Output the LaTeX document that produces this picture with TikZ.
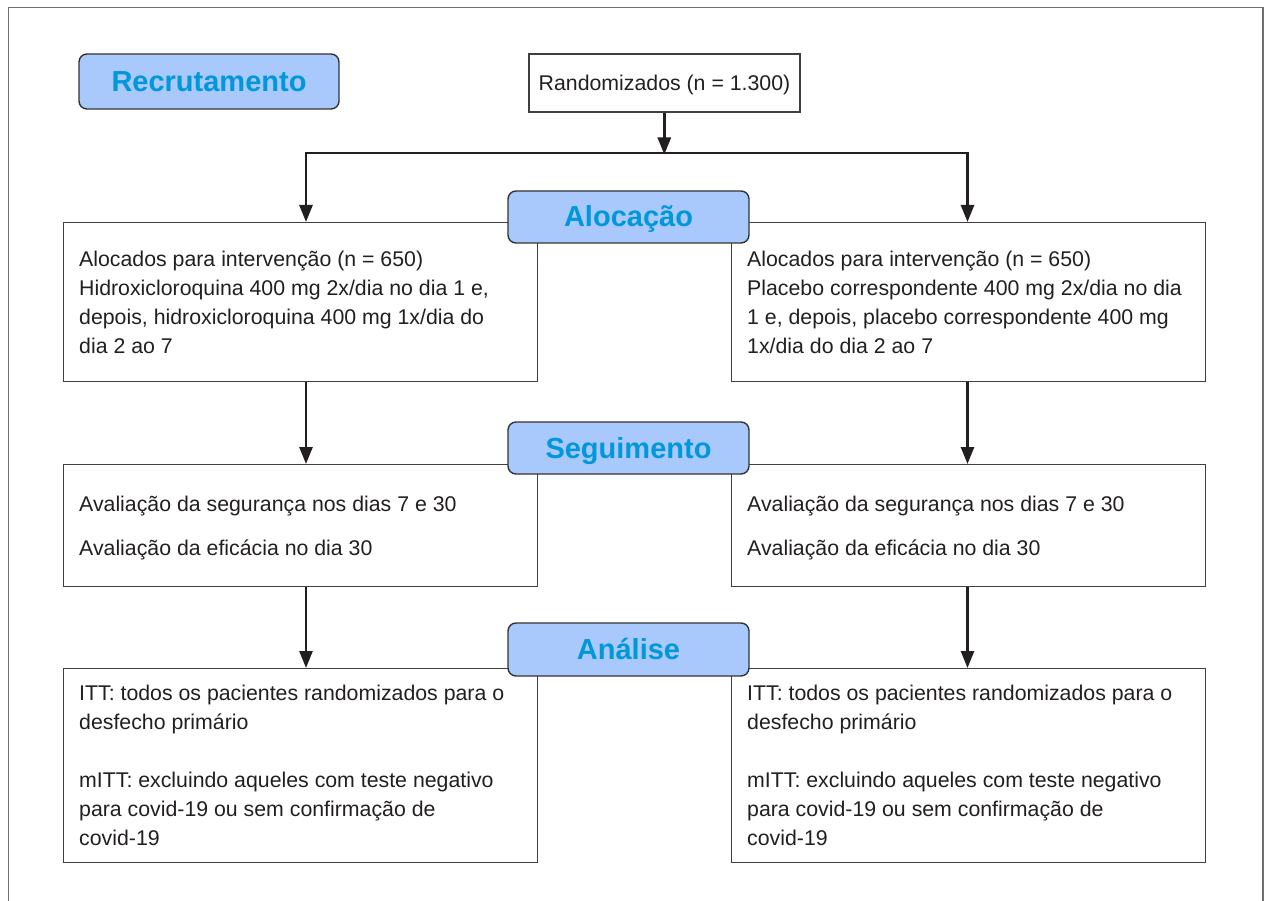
\documentclass[tikz,border=0pt]{standalone}
\usepackage{fontspec}
\setmainfont{Liberation Sans}
\usetikzlibrary{arrows.meta}
\definecolor{lblfill}{HTML}{A9C8FB}
\definecolor{lbltext}{HTML}{0098DA}
\definecolor{ink}{HTML}{231F20}
\definecolor{boxline}{HTML}{3F3F3F}
\definecolor{frameline}{HTML}{6F6F6F}
\newcommand\topstrut{\rule{0pt}{16pt}}
\begin{document}
\begin{tikzpicture}[x=1pt,y=-1pt,
  box/.style={draw=boxline, line width=1.3pt, fill=white, rectangle, inner sep=0pt, anchor=north west},
  lbl/.style={draw=black!80, line width=1.4pt, fill=lblfill, rounded corners=8pt, inner sep=0pt,
    text=lbltext, font=\fontsize{29}{34}\selectfont\bfseries, text height=20pt, text depth=0pt},
  body/.style={anchor=north west, inner sep=0pt, align=left, text=ink, font=\fontsize{21.3}{29}\selectfont},
  arr/.style={draw=ink, line width=2.6pt, line join=miter, -{Triangle[length=17pt,width=13pt]}}]
\useasboundingbox (0,0) rectangle (1269,901);
% outer frame
\draw[frameline, line width=1.5pt] (8.3,901) -- (8.3,7.6) -- (1263,7.6) -- (1263,901);

% boxes
\node[box, minimum width=474pt, minimum height=159pt] (a1) at (63,222) {};
\node[box, minimum width=474pt, minimum height=159pt] (b1) at (731,222) {};
\node[box, minimum width=474pt, minimum height=122pt] (a2) at (63,464) {};
\node[box, minimum width=474pt, minimum height=122pt] (b2) at (731,464) {};
\node[box, minimum width=474pt, minimum height=194pt] (a3) at (63,668) {};
\node[box, minimum width=474pt, minimum height=194pt] (b3) at (731,668) {};

\node[box, anchor=center, minimum width=271pt, minimum height=58pt, text=ink,
  font=\fontsize{21.3}{29}\selectfont, text height=16pt, text depth=0pt] (rand) at (664.5,83) {Randomizados (n = 1.300)};

% box texts
\node[body] (ta1) at (79,250) {\topstrut Alocados para intervenção (n = 650)\\Hidroxicloroquina 400 mg 2x/dia no dia 1 e,\\depois, hidroxicloroquina 400 mg 1x/dia do\\dia 2 ao 7};
\node[body] (tb1) at (747,250) {\topstrut Alocados para intervenção (n = 650)\\Placebo correspondente 400 mg 2x/dia no dia\\1 e, depois, placebo correspondente 400 mg\\1x/dia do dia 2 ao 7};
\node[body] (ta2) at (79,495.7) {\topstrut Avaliação da segurança nos dias 7 e 30\\[14.3pt]Avaliação da eficácia no dia 30};
\node[body] (tb2) at (747,495.7) {\topstrut Avaliação da segurança nos dias 7 e 30\\[14.3pt]Avaliação da eficácia no dia 30};
\node[body] (ta3) at (79,684.5) {\topstrut ITT: todos os pacientes randomizados para o\\desfecho primário\\[29pt]mITT: excluindo aqueles com teste negativo\\para covid-19 ou sem confirmação de\\covid-19};
\node[body] (tb3) at (747,684.5) {\topstrut ITT: todos os pacientes randomizados para o\\desfecho primário\\[29pt]mITT: excluindo aqueles com teste negativo\\para covid-19 ou sem confirmação de\\covid-19};

% stage labels
\node[lbl, minimum width=260pt, minimum height=55pt] (recr) at (209,81.5) {Recrutamento};
\node[lbl, minimum width=241pt, minimum height=52pt] (aloc) at (628.5,217) {Alocação};
\node[lbl, minimum width=241pt, minimum height=52pt] (segu) at (628.5,448) {Seguimento};
\node[lbl, minimum width=241pt, minimum height=53pt] (anal) at (628.5,649.5) {Análise};

% connectors
\coordinate (jl) at (306,153);
\coordinate (jr) at (967.5,153);
\coordinate (jm) at (664.3,153);
\draw[arr] (rand.south -| jm) -- ([yshift=-1.5pt]jm);
\draw[arr] (jm) -- (jl) -- (a1.north -| jl);
\draw[arr] (jm) -- (jr) -- (b1.north -| jr);
\draw[arr] (a1.south -| jl) -- (a2.north -| jl);
\draw[arr] (b1.south -| jr) -- (b2.north -| jr);
\draw[arr] (a2.south -| jl) -- (a3.north -| jl);
\draw[arr] (b2.south -| jr) -- (b3.north -| jr);
\end{tikzpicture}
\end{document}
